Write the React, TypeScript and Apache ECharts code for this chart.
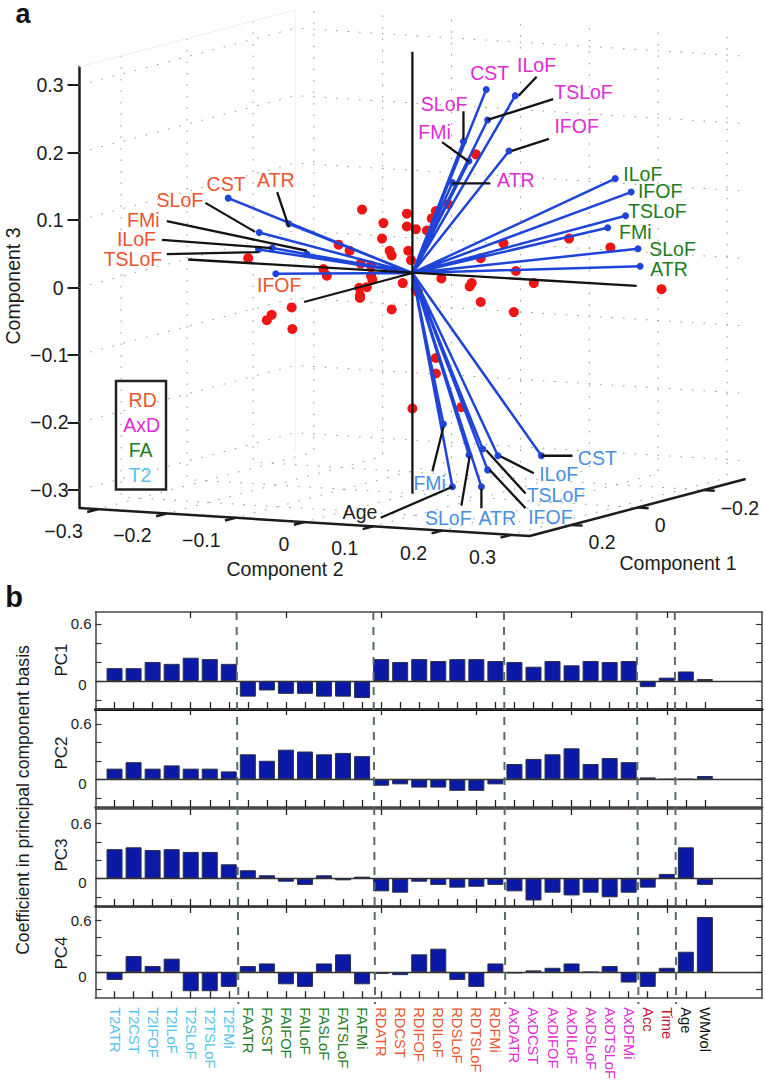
import React, { useEffect, useRef } from "react";
import * as echarts from "echarts";

// ---------- Panel b: coefficients ----------
const categories = [
  "T2ATR","T2CST","T2IFOF","T2ILoF","T2SLoF","T2TSLoF","T2FMi",
  "FAATR","FACST","FAIFOF","FAILoF","FASLoF","FATSLoF","FAFMi",
  "RDATR","RDCST","RDIFOF","RDILoF","RDSLoF","RDTSLoF","RDFMi",
  "AxDATR","AxDCST","AxDIFOF","AxDILoF","AxDSLoF","AxDTSLoF","AxDFMi",
  "Acc","Time","Age","WMvol",
];
const pc1 = [0.135,0.135,0.2,0.18,0.245,0.23,0.18, -0.165,-0.1,-0.135,-0.135,-0.165,-0.165,-0.18, 0.23,0.2,0.23,0.21,0.23,0.23,0.21, 0.2,0.15,0.21,0.165,0.21,0.2,0.21, -0.065,0.035,0.1,0.02];
const pc2 = [0.115,0.185,0.115,0.15,0.115,0.115,0.085, 0.27,0.2,0.32,0.3,0.27,0.285,0.25, -0.07,-0.055,-0.09,-0.09,-0.125,-0.125,-0.055, 0.165,0.22,0.27,0.335,0.165,0.23,0.185, 0.02,0,0,0.035];
const pc3 = [0.32,0.34,0.31,0.32,0.29,0.29,0.155, 0.09,0.035,-0.035,-0.07,0.035,-0.02,0.02, -0.14,-0.155,-0.035,-0.07,-0.1,-0.09,-0.07, -0.14,-0.24,-0.155,-0.185,-0.155,-0.205,-0.155, -0.1,0.05,0.34,-0.07];
const pc4 = [-0.09,0.185,0.07,0.155,-0.22,-0.22,-0.17, 0.07,0.1,-0.14,-0.17,0.1,0.205,-0.14, -0.02,-0.035,0.205,0.27,-0.09,-0.17,0.1, -0.015,0.02,0.05,0.1,0,0.07,-0.12, -0.17,0.05,0.235,0.635];
const pcNames = ["PC1","PC2","PC3","PC4"];
const separatorsTop = [7.41,14.59,21.45,28.42,30.42];
const separatorsBottom = [7.5,14.68,21.52,28.51,30.49];
const barTicks = [-0.2,0,0.2,0.4,0.6];
const barLabels = [0,0.6];
const topTicks = [5,10,15,20,25,30];

// ---------- Panel a: biplot, view-plane readings [horizontal, vertical] ----------
const tracts = ["ATR","CST","IFOF","ILoF","SLoF","TSLoF","FMi"];
const rdVectors = [[-0.179,0.073],[-0.267,0.111],[-0.198,-0.001],[-0.203,0.037],[-0.222,0.06],[-0.223,0.035],[-0.153,0.028]];
const axdVectors = [[0.058,0.134],[0.107,0.272],[0.14,0.181],[0.149,0.263],[0.074,0.195],[0.109,0.227],[0.082,0.166]];
const faTracts = ["ATR","IFOF","ILoF","SLoF","TSLoF","FMi"];
const faVectors = [[0.33,0.01],[0.317,0.12],[0.294,0.14],[0.327,0.036],[0.309,0.085],[0.283,0.067]];
const t2Vectors = [[0.1,-0.317],[0.187,-0.271],[0.109,-0.292],[0.124,-0.271],[0.082,-0.27],[0.102,-0.261],[0.045,-0.224]];
const ageVector = [0.058,-0.317];

const rdLabels = [[-0.198,0.138],[-0.27,0.132],[-0.193,-0.018],[-0.4,0.0505],[-0.337,0.108],[-0.405,0.0205],[-0.39,0.079]];
const axdLabels = [[0.15,0.138],[0.112,0.297],[0.238,0.218],[0.18,0.309],[0.046,0.251],[0.248,0.269],[0.032,0.209]];
const faLabels = [[0.372,0.006],[0.359,0.1215],[0.334,0.147],[0.377,0.036],[0.355,0.0915],[0.323,0.061]];
const t2Labels = [[0.123,-0.364],[0.268,-0.274],[0.2,-0.362],[0.212,-0.298],[0.052,-0.363],[0.208,-0.329],[0.025,-0.312]];
const ageLabel = [-0.076,-0.354];

const leaders = [
  [-0.3,0.104,-0.228,0.061],[-0.196,0.12,-0.179,0.068],[-0.356,0.077,-0.153,0.033],[-0.363,0.049,-0.204,0.037],[-0.356,0.028,-0.223,0.031],
  [-0.325,0.02,0.325,-0.019],[-0.157,-0.043,0,0],[0,0.328,0,-0.327],
  [0.074,0.24,0.074,0.198],[0.18,0.291,0.154,0.263],[0.204,0.258,0.109,0.227],[0.198,0.199,0.144,0.181],[0.043,0.194,0.082,0.165],[0.113,0.133,0.058,0.133],
  [0.232,-0.271,0.187,-0.271],[0.176,-0.297,0.128,-0.272],[0.164,-0.327,0.107,-0.263],[0.164,-0.349,0.112,-0.292],[0.1,-0.349,0.1,-0.32],[0.071,-0.345,0.083,-0.272],[0.029,-0.294,0.045,-0.228],[-0.046,-0.363,0.058,-0.317],
];
const scores = [
  [-0.073,0.094],[-0.042,0.074],[-0.044,0.051],[-0.033,0.033],[-0.03,0.026],[-0.107,0.042],[-0.091,0.033],[-0.075,0.014],[-0.06,0.011],[-0.238,0.022],
  [-0.129,0.006],[-0.124,-0.004],[-0.06,-0.004],[-0.058,-0.01],[-0.077,-0.022],[-0.066,-0.021],[-0.076,-0.033],[-0.014,-0.015],[-0.175,-0.051],[-0.204,-0.062],
  [-0.211,-0.07],[-0.174,-0.083],[-0.076,-0.037],[-0.03,-0.054],[0.092,0.176],[0.052,0.102],[0.034,0.092],[0.028,0.081],[0.021,0.063],[-0.008,0.088],
  [-0.008,0.069],[0.005,0.065],[-0.006,0.033],[-0.002,0.019],[0.005,-0.024],[0.008,-0.028],[0.042,-0.008],[0.086,-0.015],[0.083,-0.02],[0.099,0.022],
  [0.132,0.044],[0.227,0.051],[0.287,0.038],[0.15,0.003],[0.176,-0.015],[0.361,-0.024],[0.099,-0.043],[0.147,-0.058],[0.034,-0.126],[0.034,-0.149],[0,-0.201],[0.071,-0.199],
];
const comp1Ticks = [-0.2,0,0.2];
const comp2Ticks = [-0.3,-0.2,-0.1,0,0.1,0.2,0.3];
const comp3Ticks = [-0.3,-0.2,-0.1,0,0.1,0.2,0.3];
const legendItems = ["RD","AxD","FA","T2"];

const FONT = '"Liberation Sans", Arial, sans-serif';
const INK = "#1c1c1c";
const BLUE = "#1F45D8";
const C_T2 = "#55C3EA", C_FA = "#217C1E", C_RD = "#EC5530", C_AXD = "#E02CD4", C_CRIM = "#C2142E", C_T2B = "#4A90E2";

const categoryColor = (i: number) => (i < 7 ? C_T2 : i < 14 ? C_FA : i < 21 ? C_RD : i < 28 ? C_AXD : i < 30 ? C_CRIM : "#111");
const L = 0.327;
const Y0 = 0.0215;
// oblique projection of the box into the plane of the two hidden/visible axes
const project = (c1: number, c2: number, c3: number) => [0.9984 * c2 - 0.4787 * c1, Y0 - 0.0635 * c2 - 0.1293 * c1 + c3];
const plane = (p: number[]) => [p[0], p[1] + Y0];
const GAP = ["-", "-"];
const joinSegments = (segs: number[][][]) => {
  const out: any[] = [];
  segs.forEach((s, i) => { if (i) out.push(GAP); s.forEach((p) => out.push(p)); });
  return out;
};
const fmt = (v: number) => (v === 0 ? "0" : (v < 0 ? "\u2212" : "") + Math.abs(v).toFixed(1));

const wallSegments = () => {
  const s: number[][][] = [];
  comp3Ticks.forEach((z) => {
    s.push([project(L, -L, z), project(-L, -L, z), project(-L, L, z)]);
  });
  comp1Ticks.forEach((a) => {
    s.push([project(a, -L, L), project(a, -L, -L), project(a, L, -L)]);
  });
  comp2Ticks.forEach((b) => {
    s.push([project(-L, b, L), project(-L, b, -L), project(L, b, -L)]);
  });
  return joinSegments(s);
};

export default function App() {
  const ref = useRef<HTMLDivElement>(null);
  useEffect(() => {
    const chart = echarts.init(ref.current!, undefined, { renderer: "svg" });
    const grids: any[] = [{ left: 79.5, width: 666.5, top: 67, height: 441 }];
    const xAxes: any[] = [{ gridIndex: 0, type: "value", min: -0.4825, max: 0.4835, show: false }];
    const yAxes: any[] = [{
      gridIndex: 0, type: "value", min: -L, max: L, position: "left",
      axisLine: { show: true, onZero: false, lineStyle: { color: INK, width: 2.5 } },
      axisTick: { show: true, length: 12, customValues: comp3Ticks, lineStyle: { color: INK, width: 2 } },
      axisLabel: {
        customValues: comp3Ticks, margin: 11, fontFamily: FONT, fontSize: 19.5, color: INK,
        formatter: (v: number) => (v >= 0 ? `{p|${fmt(v)}}` : `{n|${fmt(v)}}`),
        rich: { p: { padding: [0, 5, 0, 0], fontFamily: FONT, fontSize: 19.5, color: INK }, n: { fontFamily: FONT, fontSize: 19.5, color: INK } },
      },
      splitLine: { show: false },
    }];
    const series: any[] = [];

    // --- panel a series ---
    const line = (name: string, data: any[], color: string, width: number, z: number, type: any = "solid") => ({
      name, type: "line", xAxisIndex: 0, yAxisIndex: 0, data, showSymbol: false, symbol: "none", clip: false, silent: true, z,
      lineStyle: { color, width, type, cap: "butt" }, connectNulls: false,
    });
    const labels = (names: string[], pts: number[][], color: string, fontSize = 19.5) => ({
      type: "scatter", xAxisIndex: 0, yAxisIndex: 0, clip: false, silent: true, z: 8, symbolSize: 1, itemStyle: { color: "transparent", opacity: 1 },
      data: pts.map((p, i) => ({ value: plane(p), name: names[i] })),
      label: { show: true, position: "inside", formatter: "{b}", color, opacity: 1, fontFamily: FONT, fontSize, lineHeight: 15, align: "center", verticalAlign: "middle" },
    });
    const origin = plane([0, 0]);
    const vectors = [...rdVectors, ...axdVectors, ...faVectors, ...t2Vectors, ageVector];
    series.push(line("walls", wallSegments(), "#8b9696", 1, 1, [1.5, 10]));
    series.push(line("edges", joinSegments([
      [project(L, -L, L), project(-L, -L, L), project(-L, -L, -L)],
    ]), "#eeeeee", 1, 1));
    series.push(line("floor axes", [project(L, -L, -L), project(L, L, -L), project(-L, L, -L)], INK, 2.5, 2));
    series.push(line("floor ticks", joinSegments([
      ...comp2Ticks.map((b) => [project(L, b, -L), project(L + 0.032, b, -L)]),
      ...comp1Ticks.map((a) => [project(a, L, -L), project(a, L + 0.016, -L)]),
    ]), INK, 2.5, 2));
    series.push({
      type: "scatter", xAxisIndex: 0, yAxisIndex: 0, clip: false, silent: true, z: 3, symbolSize: 10, itemStyle: { color: "#EE1515", opacity: 1 },
      data: scores.map(plane),
    });
    series.push(line("loadings", joinSegments(vectors.map((v) => [origin, plane(v)])), BLUE, 2.5, 4));
    series.push({
      type: "scatter", xAxisIndex: 0, yAxisIndex: 0, clip: false, silent: true, z: 5, symbolSize: 7, itemStyle: { color: BLUE, opacity: 1 },
      data: vectors.map(plane),
    });
    series.push(line("leaders", joinSegments(leaders.map((l) => [plane([l[0], l[1]]), plane([l[2], l[3]])])), "#141414", 2.3, 6));
    series.push(labels(tracts, rdLabels, C_RD));
    series.push(labels(tracts, axdLabels, C_AXD));
    series.push(labels(faTracts, faLabels, C_FA));
    series.push(labels(tracts, t2Labels, C_T2B));
    series.push(labels(["Age"], [ageLabel], "#222"));
    series.push({
      type: "scatter", xAxisIndex: 0, yAxisIndex: 0, clip: false, silent: true, z: 8, symbolSize: 1, itemStyle: { color: "transparent", opacity: 1 },
      data: comp2Ticks.map((b) => ({ value: project(L, b, -L), name: fmt(b) })),
      label: { show: true, position: "inside", formatter: "{b}", color: INK, opacity: 1, fontFamily: FONT, fontSize: 19.5, align: "right", verticalAlign: "middle", offset: [-15, 22] },
    });
    series.push({
      type: "scatter", xAxisIndex: 0, yAxisIndex: 0, clip: false, silent: true, z: 8, symbolSize: 1, itemStyle: { color: "transparent", opacity: 1 },
      data: comp1Ticks.map((a) => ({ value: project(a, L, -L), name: fmt(a) })),
      label: { show: true, position: "inside", formatter: "{b}", color: INK, opacity: 1, fontFamily: FONT, fontSize: 19.5, align: "left", verticalAlign: "middle", offset: [17, 17.5] },
    });

    // --- panel b ---
    const panels = [
      { values: pc1, top: 612, height: 97, min: -0.295, max: 0.726, floor: { color: "#111", width: 3 } },
      { values: pc2, top: 709, height: 98, min: -0.3, max: 0.76, floor: { color: "#444", width: 2.5 } },
      { values: pc3, top: 809, height: 97, min: -0.3, max: 0.758, floor: { color: "#222", width: 2.5 } },
      { values: pc4, top: 907, height: 97, min: -0.3, max: 0.75, floor: { color: "#444", width: 1.5 } },
    ];
    const frame = { color: "#444", width: 1.5 };
    panels.forEach((p, i) => {
      const g = i + 1;
      const xb = xAxes.length;
      const yl = yAxes.length;
      grids.push({ left: 95.5, width: 666.5, top: p.top, height: p.height });
      xAxes.push({
        gridIndex: g, type: "value", min: 0, max: 35, position: "bottom", splitLine: { show: false },
        axisLine: { show: true, onZero: false, lineStyle: p.floor },
        axisTick: { show: true, inside: true, length: 7, customValues: categories.map((_, k) => k + 1), lineStyle: { color: "#222", width: 1.3 } },
        axisLabel: i === 3 ? {
          show: true, rotate: -90, margin: 9, customValues: categories.map((_, k) => k + 1), hideOverlap: false,
          fontFamily: FONT, fontSize: 14.7,
          formatter: (v: number) => categories[v - 1],
          color: (v: number) => categoryColor(v - 1),
        } : { show: false },
      });
      xAxes.push({
        gridIndex: g, type: "value", min: 0, max: 35, position: "top", splitLine: { show: false },
        axisLine: { show: true, onZero: false, lineStyle: frame },
        axisTick: { show: true, inside: true, length: 6, customValues: topTicks, lineStyle: { color: "#222", width: 1.3 } },
        axisLabel: { show: false },
      });
      yAxes.push({
        gridIndex: g, type: "value", min: p.min, max: p.max, position: "left", splitLine: { show: false },
        axisLine: { show: true, onZero: false, lineStyle: frame },
        axisTick: { show: true, inside: true, length: 6, customValues: barTicks, lineStyle: { color: "#333", width: 1.2 } },
        axisLabel: {
          customValues: barLabels, margin: 4, fontFamily: FONT, fontSize: 15, color: INK,
          formatter: (v: number) => (v === 0 ? "{z|0}" : `{n|${v}}`),
          rich: {
            z: { padding: [8, 5, 0, 0], fontFamily: FONT, fontSize: 15, color: INK },
            n: { fontFamily: FONT, fontSize: 15, color: INK },
          },
        },
      });
      yAxes.push({
        gridIndex: g, type: "value", min: p.min, max: p.max, position: "right", splitLine: { show: false },
        axisLine: { show: true, onZero: false, lineStyle: frame },
        axisTick: { show: true, inside: true, length: 6, customValues: barTicks, lineStyle: { color: "#333", width: 1.2 } },
        axisLabel: { show: false },
      });
      series.push({
        type: "bar", name: pcNames[i], xAxisIndex: xb, yAxisIndex: yl, barWidth: 16, silent: true, z: 2,
        data: p.values.map((v, k) => [k + 1, v]),
        itemStyle: { color: "#0A1AA6", borderColor: "#2b3044", borderWidth: 1 },
        markLine: {
          silent: true, symbol: "none", label: { show: false }, animation: false,
          lineStyle: { color: "#333", width: 1.4, type: "solid" }, data: [{ yAxis: 0 }],
        },
      });
    });

    // overlay: group separators across all four panels
    const ov = grids.length;
    const ovX = xAxes.length;
    const ovY = yAxes.length;
    grids.push({ left: 95.5, width: 666.5, top: 612, height: 392 });
    xAxes.push({ gridIndex: ov, type: "value", min: 0, max: 35, show: false });
    yAxes.push({ gridIndex: ov, type: "value", min: 0, max: 1, show: false });
    series.push({
      type: "line", xAxisIndex: ovX, yAxisIndex: ovY, showSymbol: false, symbol: "none", silent: true, z: 9,
      data: joinSegments(separatorsTop.map((x, i) => [[x, 1], [separatorsBottom[i], 0]])),
      lineStyle: { color: "#5A6B70", width: 2, type: [8, 7] },
    });

    const txt = (text: string, x: number, y: number, fontSize: number, fill: string, rotation = 0, weight = "normal") => ({
      type: "text", x, y, rotation, silent: true, z: 20,
      style: { text, fill, font: `${weight} ${fontSize}px ${FONT}`, textAlign: "center", textVerticalAlign: "middle" },
    });
    const legendY = [400, 425, 450, 475];
    const legendX = [142.7, 141.7, 140.7, 140];
    const legendC = [C_RD, C_AXD, C_FA, C_T2];
    const pcY = [660, 753, 855, 953];
    const graphic: any[] = [
      txt("a", 23, 14, 27, "#111", 0, "bold"),
      txt("b", 14, 597, 29, "#111", 0, "bold"),
      txt("Component 3", 13, 286, 19.5, INK, Math.PI / 2),
      txt("Component 2", 285, 569, 19.5, INK),
      txt("Component 1", 678, 563, 19.5, INK),
      txt("Coefficient in principal component basis", 23, 800, 17.6, INK, Math.PI / 2),
      {
        type: "rect", silent: true, z: 19, shape: { x: 116, y: 381, width: 50, height: 108.5 },
        style: { fill: "transparent", stroke: "#222", lineWidth: 2.5 },
      },
      ...legendItems.map((t, i) => txt(t, legendX[i], legendY[i], 19.5, legendC[i])),
      ...pcNames.map((t, i) => txt(t, 61, pcY[i], 17, INK, Math.PI / 2)),
    ];

    chart.setOption({
      animation: false,
      backgroundColor: "#fff",
      tooltip: { show: false },
      grid: grids,
      xAxis: xAxes,
      yAxis: yAxes,
      series,
      graphic,
    });
    return () => chart.dispose();
  }, []);
  return <div ref={ref} style={{ position: "absolute", left: 0, top: 0, width: 765, height: 1082 }} />;
}
